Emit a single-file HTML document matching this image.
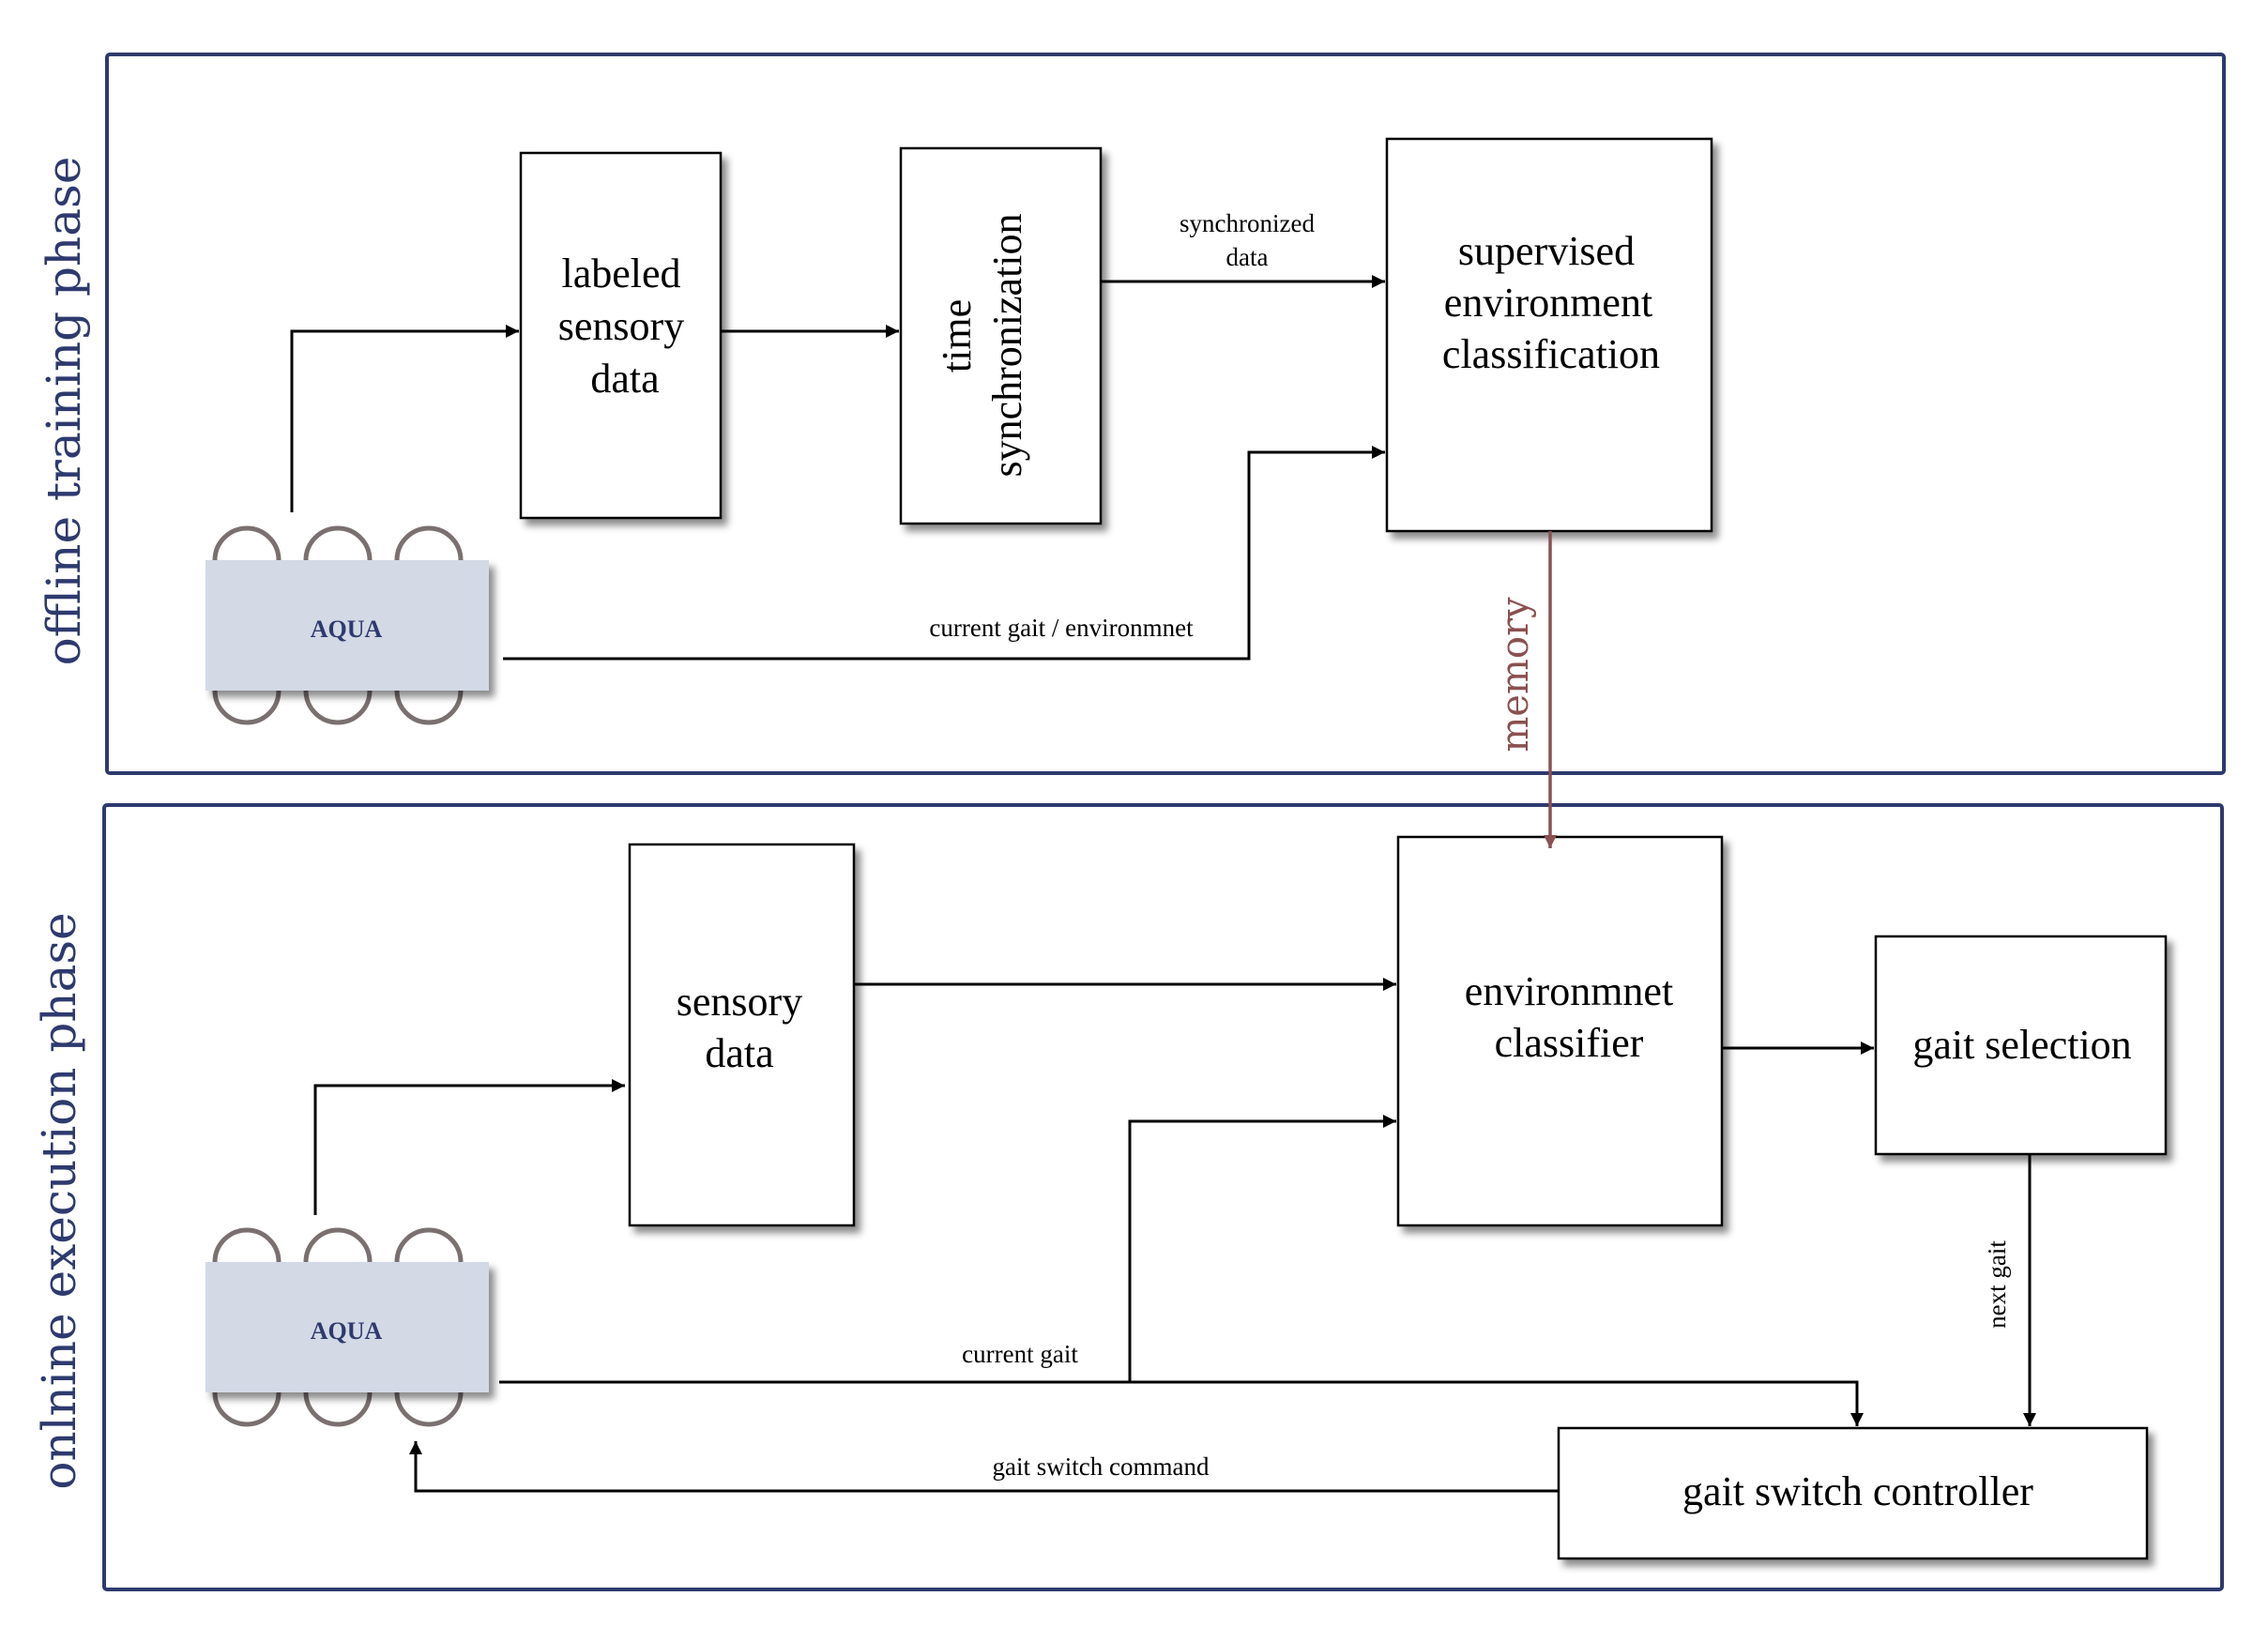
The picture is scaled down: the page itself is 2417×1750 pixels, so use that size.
<!DOCTYPE html>
<html><head><meta charset="utf-8"><style>
html,body{margin:0;padding:0;background:#fff;}
svg{display:block;}
.bt{font-family:"Liberation Serif",serif;font-size:44px;fill:#000;text-anchor:middle;}
.et{font-family:"Liberation Serif",serif;font-size:27px;fill:#000;text-anchor:middle;}
.side{font-family:"DejaVu Serif","Liberation Serif",serif;font-size:50px;fill:#2e3a6e;text-anchor:middle;}
</style></head><body>
<svg width="2417" height="1750" viewBox="0 0 2417 1750" xmlns="http://www.w3.org/2000/svg">
<defs>
<marker id="a" viewBox="0 0 10 10" refX="10" refY="5" markerWidth="6" markerHeight="6" orient="auto" markerUnits="userSpaceOnUse"><path d="M0,0 L10,5 L0,10 z" fill="#000"/></marker>
<marker id="ab" viewBox="0 0 10 10" refX="10" refY="5" markerWidth="18" markerHeight="14" orient="auto" markerUnits="userSpaceOnUse"><path d="M0,0 L10,5 L0,10 z" fill="#000"/></marker>
<marker id="am" viewBox="0 0 10 10" refX="10" refY="5" markerWidth="18" markerHeight="14" orient="auto" markerUnits="userSpaceOnUse"><path d="M0,0 L10,5 L0,10 z" fill="#8b5050"/></marker>
<filter id="sh" x="-10%" y="-10%" width="130%" height="130%"><feDropShadow dx="6" dy="7" stdDeviation="4" flood-color="#000" flood-opacity="0.45"/></filter>
</defs>

<!-- frames -->
<rect x="114" y="58" width="2256" height="766" fill="none" stroke="#2e3a6e" stroke-width="4" rx="3"/>
<rect x="111" y="858" width="2257" height="836" fill="none" stroke="#2e3a6e" stroke-width="4" rx="3"/>

<text class="side" transform="translate(85,438) rotate(-90)">offline training phase</text>
<text class="side" transform="translate(80,1280) rotate(-90)">onlnine execution phase</text>

<!-- boxes top -->
<g fill="#fff" stroke="#000" stroke-width="2.5" filter="url(#sh)">
<rect x="555" y="163" width="213" height="389"/>
<rect x="960" y="158" width="213" height="400"/>
<rect x="1478" y="148" width="346" height="418"/>
<rect x="671" y="900" width="239" height="406"/>
<rect x="1490" y="892" width="345" height="414"/>
<rect x="1999" y="998" width="309" height="232"/>
<rect x="1661" y="1522" width="627" height="139"/>
</g>

<text class="bt" x="662" y="306">labeled</text>
<text class="bt" x="662" y="362">sensory</text>
<text class="bt" x="666" y="418">data</text>
<text class="bt" transform="translate(1034,358) rotate(-90)">time</text>
<text class="bt" transform="translate(1088,368) rotate(-90)">synchronization</text>
<text class="bt" x="1648" y="282">supervised</text>
<text class="bt" x="1650" y="337">environment</text>
<text class="bt" x="1653" y="392">classification</text>
<text class="bt" x="788" y="1082">sensory</text>
<text class="bt" x="788" y="1137">data</text>
<text class="bt" x="1672" y="1071">environmnet</text>
<text class="bt" x="1672" y="1126">classifier</text>
<text class="bt" x="2155" y="1128">gait selection</text>
<text class="bt" x="1980" y="1604">gait switch controller</text>

<!-- AQUA robots -->
<g>
<g fill="none" stroke="#7a7070" stroke-width="5">
<path d="M229,597 A34,34 0 1 1 297,597"/><path d="M326,597 A34,34 0 1 1 394,597"/><path d="M423,597 A34,34 0 1 1 491,597"/>
<path d="M229,736 A34,34 0 1 0 297,736"/><path d="M326,736 A34,34 0 1 0 394,736"/><path d="M423,736 A34,34 0 1 0 491,736"/>
<path d="M229,1345 A34,34 0 1 1 297,1345"/><path d="M326,1345 A34,34 0 1 1 394,1345"/><path d="M423,1345 A34,34 0 1 1 491,1345"/>
<path d="M229,1484 A34,34 0 1 0 297,1484"/><path d="M326,1484 A34,34 0 1 0 394,1484"/><path d="M423,1484 A34,34 0 1 0 491,1484"/>
</g>
<rect x="219" y="597" width="302" height="139" fill="#d3d9e5" filter="url(#sh)"/>
<rect x="219" y="1345" width="302" height="139" fill="#d3d9e5" filter="url(#sh)"/>
<text x="369" y="679" font-family="Liberation Serif,serif" font-size="26" font-weight="bold" fill="#2e3a6e" text-anchor="middle">AQUA</text>
<text x="369" y="1427" font-family="Liberation Serif,serif" font-size="26" font-weight="bold" fill="#2e3a6e" text-anchor="middle">AQUA</text>
</g>

<!-- connectors top -->
<g fill="none" stroke="#000" stroke-width="3">
<path d="M311,546 V353 H553" marker-end="url(#ab)"/>
<path d="M768,353 H958" marker-end="url(#ab)"/>
<path d="M1173,300 H1476" marker-end="url(#ab)"/>
<path d="M536,702 H1331 V482 H1476" marker-end="url(#ab)"/>
</g>
<path d="M1652,566 V904" stroke="#8b5050" stroke-width="3.5" fill="none" marker-end="url(#am)"/>
<text transform="translate(1628,719) rotate(-90)" font-family="DejaVu Serif,Liberation Serif,serif" font-size="40" fill="#8b5050" text-anchor="middle">memory</text>
<text class="et" x="1329" y="247">synchronized</text>
<text class="et" x="1329" y="283">data</text>
<text class="et" x="1131" y="678">current gait / environmnet</text>

<!-- connectors bottom -->
<g fill="none" stroke="#000" stroke-width="3">
<path d="M336,1295 V1157 H666" marker-end="url(#ab)"/>
<path d="M910,1049 H1488" marker-end="url(#ab)"/>
<path d="M532,1473 H1979 V1520" marker-end="url(#ab)"/>
<path d="M1204,1473 V1195 H1488" marker-end="url(#ab)"/>
<path d="M1835,1117 H1997" marker-end="url(#ab)"/>
<path d="M2163,1230 V1520" marker-end="url(#ab)"/>
<path d="M1661,1589 H443 V1536" marker-end="url(#ab)"/>
</g>
<text class="et" x="1087" y="1452">current gait</text>
<text class="et" x="1173" y="1572">gait switch command</text>
<text class="et" transform="translate(2137,1369) rotate(-90)">next gait</text>
</svg>
</body></html>
